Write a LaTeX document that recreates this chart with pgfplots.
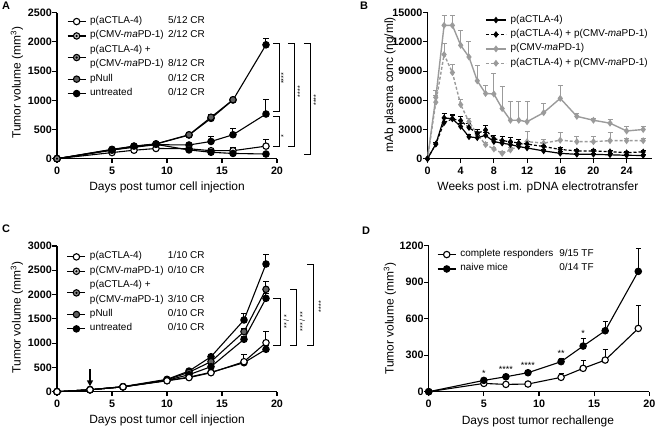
\documentclass[border=0pt]{standalone}
\usepackage{pgfplots}
\usepackage{pgfplotstable}
\pgfplotsset{compat=1.18}
\usepackage{fontspec}
\setmainfont{Liberation Sans}
\usetikzlibrary{arrows.meta}

\definecolor{cmvgrey}{HTML}{C4C4C4}
\definecolor{combogrey}{HTML}{8A8A8A}
\definecolor{nullgrey}{HTML}{606060}
\definecolor{bgrey}{HTML}{9B9B9B}

\newcommand\lblfont{\fontsize{12}{14}\selectfont}

\pgfdeclareplotmark{dotcircle}{%
  \pgfpathcircle{\pgfpointorigin}{\pgfplotmarksize}%
  \pgfusepathqfillstroke
  \pgfsetfillcolor{black}%
  \pgfpathcircle{\pgfpointorigin}{0.38\pgfplotmarksize}%
  \pgfusepathqfill
}

\pgfplotsset{prism/.style={
  scale only axis,
  axis lines*=left,
  axis line style={line width=1.1bp},
  tick style={line width=1.1bp, black},
  tick align=outside,
  major tick length=4.5bp,
  ticklabel style={font=\bfseries\fontsize{10.8}{12}\selectfont},
  yticklabel style={inner sep=0.5bp},
  /pgf/number format/assume math mode=true,
  /pgf/number format/1000 sep={},
  scaled y ticks=false,
  clip=false,
  legend cell align=left,
  legend style={draw=none, fill=none, font=\fontsize{10}{12}\selectfont, row sep=0pt, column sep=4bp, inner sep=0pt, nodes={inner sep=0pt, text height=9.2bp, text depth=5.2bp, font=\fontsize{10}{12}\selectfont}},
  legend image code/.code={\draw[mark repeat=2,mark phase=2] plot coordinates {(0bp,0bp)(9bp,0bp)(18bp,0bp)};},
},
ebar/.style={error bars/y dir=plus, error bars/y explicit, error bars/error bar style={line width=1bp, solid}, error bars/error mark options={rotate=90, line width=1bp, mark size=2.5bp, solid}},
sWhite/.style={black, line width=1.1bp, mark=*, mark size=3.2bp, mark options={fill=white, solid}},
sCMV/.style={black, line width=1.1bp, mark=dotcircle, mark size=3.2bp, mark options={fill=cmvgrey, solid}},
sCombo/.style={black, line width=1.1bp, mark=dotcircle, mark size=3.2bp, mark options={fill=combogrey, solid}},
sNull/.style={black, line width=1.1bp, mark=*, mark size=3.2bp, mark options={fill=nullgrey, solid}},
sUnt/.style={black, line width=1.1bp, mark=*, mark size=3.2bp, mark options={fill=black, solid}},
bBlack/.style={black, line width=1.2bp, mark=diamond*, mark size=2.4bp, mark options={solid}},
bBlackD/.style={black, line width=1.2bp, dash pattern=on 3bp off 2bp, mark=diamond*, mark size=2.4bp, mark options={solid}},
bGrey/.style={bgrey, line width=1.4bp, mark=diamond*, mark size=2.4bp, mark options={solid}},
bGreyD/.style={bgrey, line width=1.4bp, dash pattern=on 3bp off 2bp, mark=diamond*, mark size=2.4bp, mark options={solid}},
twoline/.style={legend image code/.code={\path[draw=none, fill=none] (0bp,-3.75bp) rectangle (18bp,3.75bp); \draw[overlay, mark repeat=2,mark phase=2] plot coordinates {(0bp,-7.2bp)(9bp,-7.2bp)(18bp,-7.2bp)};}},
}

% ---------- Panel A data ----------
\pgfplotstableread{
x y e
0 0 0
5 105 10
7 145 15
9 175 20
12 170 20
14 137 25
16 137 60
19 215 110
}\Aact
\pgfplotstableread{
x y e
0 0 0
5 150 15
7 195 20
9 240 25
12 235 30
14 295 80
16 410 100
19 765 245
}\Acmv
\pgfplotstableread{
x y e
0 0 0
5 145 15
7 215 20
9 245 25
12 150 20
14 110 20
16 90 15
19 80 15
}\Acombo
\pgfplotstableread{
x y e
0 0 0
5 160 10
7 215 20
9 255 25
12 410 30
14 710 40
16 1010 40
}\Anull
\pgfplotstableread{
x y e
0 0 0
5 155 10
7 205 20
9 250 25
12 405 30
14 690 50
16 1005 45
19 1950 110
}\Aunt

% ---------- Panel B data ----------
\pgfplotstableread{
x y e
0 0 0
1 1500 150
2 4200 400
3 4100 300
4 3300 300
5 2250 200
6 2150 250
7 2400 300
8 1750 250
9 1600 250
10 1450 250
11 1250 250
12 1100 200
14 800 150
16 550 150
18 450 100
20 450 100
22 400 100
24 350 100
26 330 100
}\Bact
\pgfplotstableread{
x y e
0 0 0
1 1500 150
2 3700 400
3 4100 400
4 3900 450
5 3200 450
6 2600 450
7 2950 450
8 2050 350
9 1850 400
10 1750 450
11 1600 350
12 1500 250
14 1250 150
16 950 150
18 800 100
20 800 100
22 720 100
24 620 100
26 700 100
}\Bcomb
\pgfplotstableread{
x y e
0 0 0
1 6300 700
2 13700 1000
3 13700 1000
4 11650 1550
5 10450 1550
6 8000 1600
7 6700 850
8 6650 2100
9 5150 2250
10 3950 1900
11 3950 1900
12 3800 2050
14 4730 900
16 6200 1300
18 4350 300
20 3950 200
22 3650 400
24 2850 450
26 3000 300
}\Bcmv
\pgfplotstableread{
x y e
0 0 0
1 5800 700
2 10700 1100
3 8850 850
4 5550 500
5 3800 300
6 2500 300
7 1450 250
8 1000 200
9 550 150
10 900 200
12 1750 1000
14 1600 350
16 1900 750
18 1750 580
20 1750 550
22 1850 850
24 1850 250
26 1850 250
}\Bcombg

% ---------- Panel C data ----------
\pgfplotstableread{
x y e
0 0 0
3 40 5
6 100 10
10 225 20
12 290 25
14 391 35
17 618 150
19 1009 225
}\Cact
\pgfplotstableread{
x y e
0 0 0
3 40 5
6 100 10
10 235 20
12 350 25
14 515 40
17 1079 60
19 1923 100
}\Ccmv
\pgfplotstableread{
x y e
0 0 0
3 40 5
6 100 10
10 230 20
12 300 25
14 400 35
17 597 40
19 873 80
}\Ccombo
\pgfplotstableread{
x y e
0 0 0
3 40 5
6 100 10
10 245 20
12 400 30
14 618 40
17 1236 70
19 2108 155
}\Cnull
\pgfplotstableread{
x y e
0 0 0
3 40 5
6 105 10
10 255 20
12 425 30
14 720 50
17 1476 130
19 2629 205
}\Cunt

% ---------- Panel D data ----------
\pgfplotstableread{
x y e
0 0 0
5 68 8
7 60 8
9 63 8
12 118 30
14 192 65
16 260 90
19 520 190
}\Dcr
\pgfplotstableread{
x y e
0 0 0
5 93 10
7 123 10
9 156 15
12 247 25
14 375 65
16 501 80
19 989 185
}\Dnaive

\begin{document}
\begin{tikzpicture}
\useasboundingbox (0,0) rectangle (657bp,431bp);

% ================= Panel A =================
\begin{axis}[prism, at={(57bp,272.3bp)}, anchor=south west,
  width=220bp, height=146bp, xmin=0, xmax=20, ymin=0, ymax=2500,
  xtick={0,5,10,15,20}, ytick={0,500,1000,1500,2000,2500},
  legend style={at={(axis description cs:0.045,0.99)}, anchor=north west},
]
\addplot[sUnt, ebar, forget plot] table[x=x, y=y, y error=e] {\Aunt};
\addplot[sNull, ebar, forget plot] table[x=x, y=y, y error=e] {\Anull};
\addplot[sCMV, ebar, forget plot] table[x=x, y=y, y error=e] {\Acmv};
\addplot[sWhite, ebar, forget plot] table[x=x, y=y, y error=e] {\Aact};
\addplot[sCombo, ebar, forget plot] table[x=x, y=y, y error=e] {\Acombo};
\addlegendimage{sWhite}
\addlegendentry{\makebox[78bp][l]{p(aCTLA-4)}5/12 CR}
\addlegendimage{sCMV}
\addlegendentry{\makebox[78bp][l]{p(CMV-\textit{ma}PD-1)}2/12 CR}
\addlegendimage{sCombo, twoline}
\addlegendentry{p(aCTLA-4) +}
\addlegendimage{empty legend}
\addlegendentry{\makebox[78bp][l]{p(CMV-\textit{ma}PD-1)}8/12 CR}
\addlegendimage{sNull}
\addlegendentry{\makebox[78bp][l]{pNull}0/12 CR}
\addlegendimage{sUnt}
\addlegendentry{\makebox[78bp][l]{untreated}0/12 CR}
\node[font=\lblfont] at (rel axis cs:0.5,-0.199) {Days post tumor cell injection};
\node[font=\lblfont, rotate=90] at (rel axis cs:-0.182,0.52) {Tumor volume (mm\textsuperscript{3})};
% significance brackets
\draw[line width=1bp] (axis cs:19.66,1976) -- (axis cs:20.2,1976) -- (axis cs:20.2,805) -- (axis cs:19.66,805);
\draw[line width=1bp] (axis cs:19.66,731) -- (axis cs:20.2,731) -- (axis cs:20.2,217) -- (axis cs:19.66,217);
\draw[line width=1bp] (axis cs:21.0,1976) -- (axis cs:21.6,1976) -- (axis cs:21.6,217) -- (axis cs:21.0,217);
\draw[line width=1bp] (axis cs:22.45,1976) -- (axis cs:23.06,1976) -- (axis cs:23.06,80) -- (axis cs:22.45,80);
\node[rotate=90, font=\fontsize{7}{8}\selectfont] at (axis cs:20.6,1376) {****};
\node[rotate=90, font=\fontsize{7}{8}\selectfont] at (axis cs:20.6,389) {*};
\node[rotate=90, font=\fontsize{7}{8}\selectfont] at (axis cs:22.1,1148) {****};
\node[rotate=90, font=\fontsize{7}{8}\selectfont] at (axis cs:23.55,1005) {****};
\end{axis}

% ================= Panel B =================
\begin{axis}[prism, at={(427.5bp,272.3bp)}, anchor=south west,
  width=224bp, height=146bp, xmin=0, xmax=27, ymin=0, ymax=15000,
  xtick={0,4,...,24}, ytick={0,3000,...,15000},
  legend style={at={(axis description cs:0.257,1.0)}, anchor=north west},
  legend image code/.code={\draw[mark repeat=2,mark phase=2] plot coordinates {(0bp,0bp)(10bp,0bp)(20bp,0bp)};},
]
\addplot[bGrey, ebar, forget plot] table[x=x, y=y, y error=e] {\Bcmv};
\addplot[bGreyD, ebar, forget plot] table[x=x, y=y, y error=e] {\Bcombg};
\addplot[bBlackD, ebar, forget plot] table[x=x, y=y, y error=e] {\Bcomb};
\addplot[bBlack, ebar, forget plot] table[x=x, y=y, y error=e] {\Bact};
\addlegendimage{bBlack}
\addlegendentry{p(aCTLA-4)}
\addlegendimage{bBlackD}
\addlegendentry{p(aCTLA-4) + p(CMV-\textit{ma}PD-1)}
\addlegendimage{bGrey}
\addlegendentry{p(CMV-\textit{ma}PD-1)}
\addlegendimage{bGreyD}
\addlegendentry{p(aCTLA-4) + p(CMV-\textit{ma}PD-1)}
\node[font=\lblfont] at (rel axis cs:0.493,-0.199) {Weeks post i.m. pDNA electrotransfer};
\node[font=\lblfont, rotate=90] at (rel axis cs:-0.167,0.505) {mAb plasma conc (ng/ml)};
\end{axis}

% ================= Panel C =================
\begin{axis}[prism, at={(57bp,39.3bp)}, anchor=south west,
  width=220bp, height=145.7bp, xmin=0, xmax=20, ymin=0, ymax=3000,
  xtick={0,5,10,15,20}, ytick={0,500,...,3000},
  legend style={at={(axis description cs:0.044,0.976)}, anchor=north west},
]
\addplot[sUnt, ebar, forget plot] table[x=x, y=y, y error=e] {\Cunt};
\addplot[sNull, ebar, forget plot] table[x=x, y=y, y error=e] {\Cnull};
\addplot[sCMV, ebar, forget plot] table[x=x, y=y, y error=e] {\Ccmv};
\addplot[sCombo, ebar, forget plot] table[x=x, y=y, y error=e] {\Ccombo};
\addplot[sWhite, ebar, forget plot] table[x=x, y=y, y error=e] {\Cact};
\addlegendimage{sWhite}
\addlegendentry{\makebox[78bp][l]{p(aCTLA-4)}1/10 CR}
\addlegendimage{sCMV}
\addlegendentry{\makebox[78bp][l]{p(CMV-\textit{ma}PD-1)}0/10 CR}
\addlegendimage{sCombo, twoline}
\addlegendentry{p(aCTLA-4) +}
\addlegendimage{empty legend}
\addlegendentry{\makebox[78bp][l]{p(CMV-\textit{ma}PD-1)}3/10 CR}
\addlegendimage{sNull}
\addlegendentry{\makebox[78bp][l]{pNull}0/10 CR}
\addlegendimage{sUnt}
\addlegendentry{\makebox[78bp][l]{untreated}0/10 CR}
\node[font=\lblfont] at (rel axis cs:0.5,-0.194) {Days post tumor cell injection};
\node[font=\lblfont, rotate=90] at (rel axis cs:-0.182,0.51) {Tumor volume (mm\textsuperscript{3})};
\draw[line width=1.3bp, -{Triangle[length=6bp, width=6bp]}] (axis cs:3,460) -- (axis cs:3,110);
\draw[line width=1bp] (axis cs:19.67,1923) -- (axis cs:20.33,1923) -- (axis cs:20.33,941) -- (axis cs:19.67,941);
\draw[line width=1bp] (axis cs:21.2,2108) -- (axis cs:21.8,2108) -- (axis cs:21.8,941) -- (axis cs:21.2,941);
\draw[line width=1bp] (axis cs:22.75,2629) -- (axis cs:23.3,2629) -- (axis cs:23.3,941) -- (axis cs:22.75,941);
\node[rotate=90, font=\fontsize{7}{8}\selectfont] at (axis cs:20.85,1441) {** / *};
\node[rotate=90, font=\fontsize{7}{8}\selectfont] at (axis cs:22.3,1441) {*** / **};
\node[rotate=90, font=\fontsize{7}{8}\selectfont] at (axis cs:24.0,1750) {****};
\end{axis}

% ================= Panel D =================
\begin{axis}[prism, at={(428.7bp,39.3bp)}, anchor=south west,
  width=220.6bp, height=146bp, xmin=0, xmax=20, ymin=0, ymax=1200,
  xtick={0,5,10,15,20}, ytick={0,300,...,1200},
  legend style={at={(axis description cs:0.0376,0.99)}, anchor=north west},
]
\addplot[sWhite, ebar, forget plot] table[x=x, y=y, y error=e] {\Dcr};
\addplot[sUnt, ebar, forget plot] table[x=x, y=y, y error=e] {\Dnaive};
\addlegendimage{sWhite}
\addlegendentry{\makebox[99bp][l]{complete responders}9/15 TF}
\addlegendimage{sUnt}
\addlegendentry{\makebox[99bp][l]{naive mice}0/14 TF}
\node[font=\lblfont] at (rel axis cs:0.495,-0.2055) {Days post tumor rechallenge};
\node[font=\lblfont, rotate=90] at (rel axis cs:-0.1754,0.5) {Tumor volume (mm\textsuperscript{3})};
\node[anchor=base, yshift=-4.5bp, font=\fontsize{9}{10}\selectfont] at (axis cs:5,165) {*};
\node[anchor=base, yshift=-4.5bp, font=\fontsize{9}{10}\selectfont] at (axis cs:7,192) {****};
\node[anchor=base, yshift=-4.5bp, font=\fontsize{9}{10}\selectfont] at (axis cs:9,227) {****};
\node[anchor=base, yshift=-4.5bp, font=\fontsize{9}{10}\selectfont] at (axis cs:12,329) {**};
\node[anchor=base, yshift=-4.5bp, font=\fontsize{9}{10}\selectfont] at (axis cs:14,493) {*};
\end{axis}

% panel letters
\node[font=\bfseries\fontsize{11}{12}\selectfont] at (6bp,425bp) {A};
\node[font=\bfseries\fontsize{11}{12}\selectfont] at (364bp,425bp) {B};
\node[font=\bfseries\fontsize{11}{12}\selectfont] at (6bp,202bp) {C};
\node[font=\bfseries\fontsize{11}{12}\selectfont] at (366bp,200bp) {D};
\end{tikzpicture}
\end{document}
